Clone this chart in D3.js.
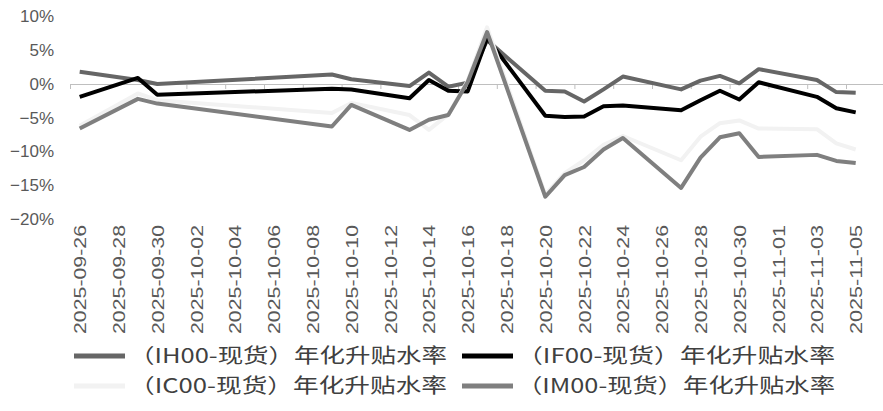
<!DOCTYPE html>
<html>
<head>
<meta charset="utf-8">
<script src="https://cdn.jsdelivr.net/npm/d3@7"></script>
<style>
  body { margin: 0; background: #fff; }
  .axis text { font-family: "Liberation Sans", Arial, sans-serif; fill: #595959; }
  .legend text { font-family: "Noto Sans CJK SC", sans-serif; fill: #404040; }
</style>
</head>
<body>
<div id="graph"></div>
<script>
// datos (% anualizado)
var fechas = ["2025-09-26","2025-09-29","2025-09-30","2025-10-09","2025-10-10","2025-10-13","2025-10-14","2025-10-15","2025-10-16","2025-10-17","2025-10-20","2025-10-21","2025-10-22","2025-10-23","2025-10-24","2025-10-27","2025-10-28","2025-10-29","2025-10-30","2025-10-31","2025-11-03","2025-11-04","2025-11-05"];

var ih = [1.8, 0.6, 0.0, 1.4, 0.7, -0.3, 1.7, -0.4, 0.2, 6.5, -1.0, -1.1, -2.6, -0.8, 1.1, -0.8, 0.5, 1.2, 0.1, 2.2, 0.6, -1.2, -1.3];
var iff = [-1.9, 0.9, -1.6, -0.7, -0.8, -2.1, 0.6, -1.0, -1.1, 6.8, -4.7, -4.9, -4.8, -3.3, -3.2, -3.9, -2.4, -1.0, -2.3, 0.25, -1.9, -3.6, -4.2];
var ic = [-6.2, -1.4, -2.4, -4.3, -2.8, -4.6, -6.8, -4.5, 0.5, 8.4, -16.4, -13.2, -11.3, -9.0, -7.7, -11.3, -7.8, -5.8, -5.4, -6.6, -6.7, -8.8, -9.7];
var im = [-6.6, -2.2, -2.9, -6.3, -3.1, -6.8, -5.3, -4.6, 0.3, 7.7, -16.7, -13.5, -12.3, -9.7, -8.0, -15.4, -10.9, -7.9, -7.3, -10.8, -10.5, -11.4, -11.7];

var nombres = ["（IH00-现货）年化升贴水率", "（IF00-现货）年化升贴水率", "（IC00-现货）年化升贴水率", "（IM00-现货）年化升贴水率"];
var colores = ["#666666", "#000000", "#f2f2f2", "#7f7f7f"];
var yTicks = [-0.2, -0.15, -0.1, -0.05, 0, 0.05, 0.1];
var etiquetasX = ["2025-09-26","2025-09-28","2025-09-30","2025-10-02","2025-10-04","2025-10-06","2025-10-08","2025-10-10","2025-10-12","2025-10-14","2025-10-16","2025-10-18","2025-10-20","2025-10-22","2025-10-24","2025-10-26","2025-10-28","2025-10-30","2025-11-01","2025-11-03","2025-11-05"];

var svgWidth = 883;
var svgHeight = 411;

var svg = d3.select("#graph")
  .append("svg")
  .attr("width", svgWidth)
  .attr("height", svgHeight);

var parseTime = d3.timeParse("%Y-%m-%d");
var series = [ih, iff, ic, im].map(function (vals) {
  return vals.map(function (v, i) {
    return { time: parseTime(fechas[i]), rate: v / 100 };
  });
});

// eje de fechas: medio dia de margen al inicio (estilo excel)
var inicio = d3.timeHour.offset(parseTime("2025-09-26"), -12);
var fin = d3.timeHour.offset(parseTime("2025-11-07"), 12);
var xTimeScale = d3.scaleTime()
  .domain([inicio, fin])
  .range([70, 70 + 43 * 19.4]);

var yLinearScale = d3.scaleLinear()
  .domain([-0.2, 0.1])
  .range([219, 16.5]);

// eje y (solo etiquetas)
var leftAxis = d3.axisLeft(yLinearScale)
  .tickValues(yTicks)
  .tickFormat(d3.format(".0%"))
  .tickSize(0)
  .tickPadding(0);

svg.append("g")
  .classed("axis", true)
  .attr("transform", "translate(54, 0)")
  .call(leftAxis)
  .call(function (g) { g.select(".domain").remove(); })
  .selectAll("text")
  .style("font-size", "17px");

// linea del cero con marcas cada 2 dias
var marcas = etiquetasX.map(function (d) { return d3.timeHour.offset(parseTime(d), -12); });
var zeroAxis = d3.axisBottom(xTimeScale)
  .tickValues(marcas)
  .tickFormat("")
  .tickSizeInner(5)
  .tickSizeOuter(0);

svg.append("g")
  .attr("transform", "translate(0," + yLinearScale(0) + ")")
  .call(zeroAxis)
  .call(function (g) {
    g.selectAll("line, path").attr("stroke", "#bfbfbf");
  });

// etiquetas de fecha rotadas abajo
var bottomAxis = d3.axisBottom(xTimeScale)
  .tickValues(etiquetasX.map(parseTime))
  .tickFormat(d3.timeFormat("%Y-%m-%d"))
  .tickSize(0);

svg.append("g")
  .classed("axis", true)
  .attr("transform", "translate(0, 225)")
  .call(bottomAxis)
  .call(function (g) { g.select(".domain").remove(); })
  .selectAll("text")
  .style("font-size", "17px")
  .style("text-anchor", "end")
  .attr("textLength", 109)
  .attr("lengthAdjust", "spacingAndGlyphs")
  .attr("dx", "0")
  .attr("dy", ".35em")
  .attr("y", 0)
  .attr("x", 0)
  .attr("transform", "rotate(-90)");

// lineas
var drawLine = d3.line()
  .x(function (d) { return xTimeScale(d.time); })
  .y(function (d) { return yLinearScale(d.rate); });

series.forEach(function (s, i) {
  svg.append("path")
    .attr("d", drawLine(s))
    .attr("fill", "none")
    .attr("stroke", colores[i])
    .attr("stroke-width", 4)
    .attr("stroke-linejoin", "round");
});

// leyenda
var legend = svg.append("g").classed("legend", true);
var posLeyenda = [[74, 356], [462, 356], [74, 386], [462, 386]];

nombres.forEach(function (n, i) {
  var p = posLeyenda[i];
  legend.append("line")
    .attr("x1", p[0]).attr("x2", p[0] + 51)
    .attr("y1", p[1]).attr("y2", p[1])
    .attr("stroke", colores[i])
    .attr("stroke-width", 5);
  legend.append("text")
    .attr("x", p[0] + 55)
    .attr("y", p[1])
    .attr("dy", "0.36em")
    .style("font-size", "20px")
    .attr("textLength", 318)
    .attr("lengthAdjust", "spacingAndGlyphs")
    .text(n);
});
</script>
</body>
</html>
